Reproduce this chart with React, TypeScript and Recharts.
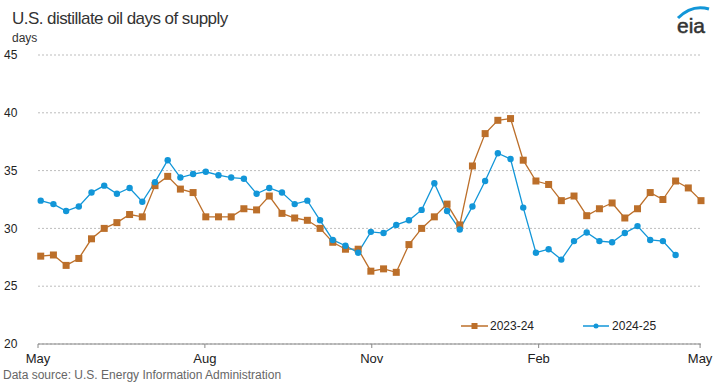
import { LineChart, Line, XAxis, YAxis, CartesianGrid } from 'recharts';

// weekly values, first week of May through the next May
const season2324 = [
	27.6, 27.7, 26.8, 27.4, 29.1, 30.0, 30.5, 31.2, 31.0, 33.7, 34.5, 33.4, 33.1, 31.0, 31.0, 31.0, 31.7, 31.6,
	32.8, 31.3, 30.9, 30.7, 30.0, 28.8, 28.2, 28.2, 26.3, 26.5, 26.2, 28.6, 30.0, 31.0, 32.1, 30.3, 35.4, 38.2,
	39.35, 39.5, 35.9, 34.1, 33.8, 32.4, 32.8, 31.1, 31.7, 32.2, 30.9, 31.7, 33.1, 32.5, 34.1, 33.5, 32.4,
];
const season2425 = [
	32.4, 32.1, 31.5, 31.9, 33.1, 33.7, 33.0, 33.5, 32.3, 34.0, 35.9, 34.4, 34.7, 34.9, 34.6, 34.4, 34.3, 33.0,
	33.5, 33.1, 32.1, 32.4, 30.7, 29.0, 28.5, 27.9, 29.7, 29.6, 30.3, 30.7, 31.6, 33.9, 31.5, 29.9, 31.9, 34.1,
	36.5, 36.0, 31.8, 27.9, 28.2, 27.3, 28.9, 29.65, 28.9, 28.8, 29.6, 30.2, 29.0, 28.9, 27.7,
];
const monthTicks = [0, 92, 184, 276, 365];
const monthLabels = ['May', 'Aug', 'Nov', 'Feb', 'May'];
const yTicks = [20, 25, 30, 35, 40, 45];

const ORANGE = '#bc6f2a';
const BLUE = '#1296d8';
const FONT = '"Liberation Sans", Arial, sans-serif';

// days since May 1 for each weekly report
const data = season2324.map((v, i) => ({
	day: 1.5 + 7 * i,
	a: v,
	b: i < season2425.length ? season2425[i] : null,
}));

const SquareDot = (props: any) => {
	const { cx, cy } = props;
	if (cx == null || cy == null) return null;
	return <rect x={cx - 3.5} y={cy - 3.5} width={7} height={7} fill={ORANGE} />;
};

const ChartLegend = () => (
	<div
		style={{
			position: 'absolute',
			left: 461,
			top: 320,
			display: 'flex',
			fontSize: 12,
			lineHeight: '12px',
			color: '#222',
		}}
	>
		<div style={{ display: 'flex', alignItems: 'center', marginRight: 49 }}>
			<svg width={28} height={10}>
				<line x1={0} y1={5} x2={27} y2={5} stroke={ORANGE} strokeWidth={1.5} />
				<rect x={10.5} y={2} width={6} height={6} fill={ORANGE} />
			</svg>
			<span style={{ marginLeft: 1 }}>2023-24</span>
		</div>
		<div style={{ display: 'flex', alignItems: 'center' }}>
			<svg width={28} height={10}>
				<line x1={0} y1={5} x2={26} y2={5} stroke={BLUE} strokeWidth={1.5} />
				<circle cx={13} cy={5} r={2.5} fill={BLUE} />
			</svg>
			<span style={{ marginLeft: 1 }}>2024-25</span>
		</div>
	</div>
);

export default function App() {
	return (
		<div style={{ position: 'relative', width: 719, height: 384, background: '#fff', fontFamily: FONT }}>
			<style>{'body{margin:0}'}</style>
			<div
				style={{
					position: 'absolute',
					left: 12,
					top: 10,
					fontSize: 17,
					lineHeight: '17px',
					letterSpacing: -0.55,
					color: '#333',
				}}
			>
				U.S. distillate oil days of supply
			</div>
			<div style={{ position: 'absolute', left: 12, top: 32, fontSize: 12, lineHeight: '12px', color: '#333' }}>
				days
			</div>
			<svg style={{ position: 'absolute', left: 670, top: 0 }} width={49} height={40}>
				<path d="M8 18 Q 22 4 39 9" fill="none" stroke={BLUE} strokeWidth={3} />
				<text x={7} y={33} fontFamily={FONT} fontSize={21} fill="#333" stroke="#333" strokeWidth={0.5}>
					eia
				</text>
			</svg>
			<LineChart width={719} height={384} data={data} margin={{ top: 55, right: 18, bottom: 10, left: 0 }}>
				<CartesianGrid vertical={false} stroke="#bdbdbd" strokeDasharray="2 2" />
				<XAxis
					dataKey="day"
					type="number"
					domain={[0, 365]}
					ticks={monthTicks}
					tickFormatter={(v: number) => monthLabels[monthTicks.indexOf(v)]}
					stroke="#888"
					tickSize={4}
					tickMargin={6}
					height={30}
					tick={{ fill: '#222', fontSize: 13, fontFamily: FONT }}
					interval={0}
				/>
				<YAxis
					domain={[20, 45]}
					ticks={yTicks}
					width={38}
					axisLine={false}
					tickLine={false}
					tick={{ fill: '#222', fontSize: 12, fontFamily: FONT, textAnchor: 'start', dx: -26 }}
				/>
				<Line
					dataKey="a"
					name="2023-24"
					stroke={ORANGE}
					strokeWidth={1.3}
					dot={<SquareDot />}
					activeDot={false}
					isAnimationActive={false}
				/>
				<Line
					dataKey="b"
					name="2024-25"
					stroke={BLUE}
					strokeWidth={1.3}
					dot={{ r: 3.2, fill: BLUE, stroke: BLUE, strokeWidth: 0 }}
					activeDot={false}
					isAnimationActive={false}
				/>
			</LineChart>
			<ChartLegend />
			<div style={{ position: 'absolute', left: 3, top: 369, fontSize: 12, lineHeight: '12px', color: '#666' }}>
				Data source: U.S. Energy Information Administration
			</div>
		</div>
	);
}
